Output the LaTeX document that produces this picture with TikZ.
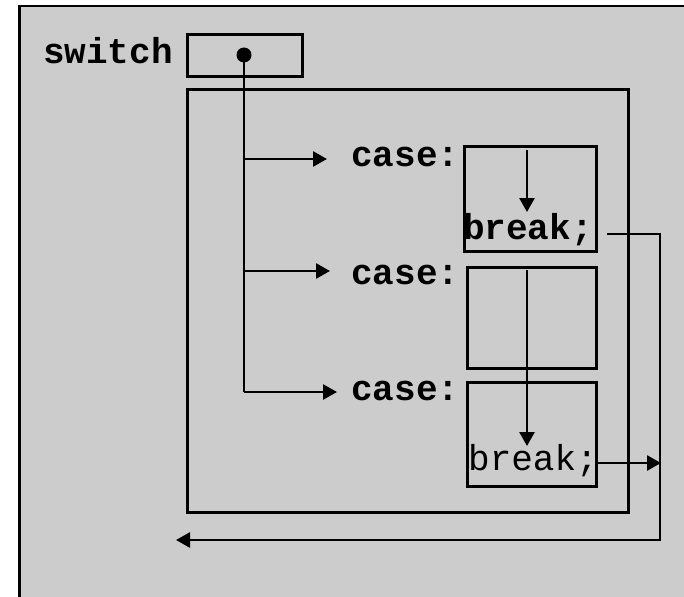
\documentclass[tikz,border=0pt]{standalone}
\usepackage{fontspec}
\setmonofont{Liberation Mono}
\usetikzlibrary{arrows.meta}
\definecolor{bg}{HTML}{CCCCCC}
\begin{document}
\begin{tikzpicture}[x=1pt,y=-1pt,
  line width=2.7pt,
  box/.style={draw, line width=3pt, inner sep=0pt, outer sep=0pt},
  lbl/.style={font=\fontsize{36}{36}\selectfont\ttfamily\bfseries, inner sep=0pt},
  plain/.style={font=\fontsize{36}{36}\selectfont\ttfamily, inner sep=0pt},
  arr/.style={-{Triangle[length=14pt,width=15pt]}},
]
\useasboundingbox (0,0) rectangle (684,596);
\draw[fill=bg, line width=2.5pt] (19.5,6) rectangle (720,640);

% switch
\node[lbl, anchor=east] (sw) at (174,51) {switch};
\node[box, minimum width=115pt, minimum height=42pt] (swbox) at (244.5,56) {};
\node[box, minimum width=441pt, minimum height=422pt] (body) at (407.5,301) {};

% case boxes
\node[box, minimum width=132pt, minimum height=104pt] (c1) at (530,199) {};
\node[box, minimum width=129pt, minimum height=101pt] (c2) at (531.5,317.5) {};
\node[box, minimum width=129pt, minimum height=104pt] (c3) at (531.5,434) {};

% case labels
\node[lbl, anchor=west] (k1) at (350,157) {case:};
\node[lbl, anchor=west] (k2) at (350,275) {case:};
\node[lbl, anchor=west] (k3) at (350,391) {case:};

% break labels
\node[lbl] (b1) at (528,230) {break;};
\node[plain] (b3) at (533,461) {break;};

% dot and jump lines
\node[circle, fill, inner sep=0pt, minimum size=15pt] (dot) at (244,55) {};
\coordinate (j1) at (244,159);
\coordinate (j2) at (244,271);
\coordinate (j3) at (244,392);
\draw (dot.center) -- (j3);
\draw[arr] (j1) -- (327,159);
\draw[arr] (j2) -- (330,271);
\draw[arr] (j3) -- (337,392);

% flow inside boxes
\coordinate (t1) at (527,150);
\coordinate (e1) at (527,212);
\draw[arr] (t1) -- (e1);
\coordinate (t2) at (527,270);
\coordinate (e2) at (527,446);
\draw[arr] (t2) -- (e2);

% exits
\coordinate (x1) at (607,234);
\coordinate (r1) at (660,234);
\coordinate (r2) at (660,540);
\coordinate (out) at (176,540);
\draw[arr] (x1) -- (r1) -- (r2) -- (out);
\coordinate (x3) at (597,463);
\coordinate (r3) at (661,463);
\draw[arr] (x3) -- (r3);
\end{tikzpicture}
\end{document}
